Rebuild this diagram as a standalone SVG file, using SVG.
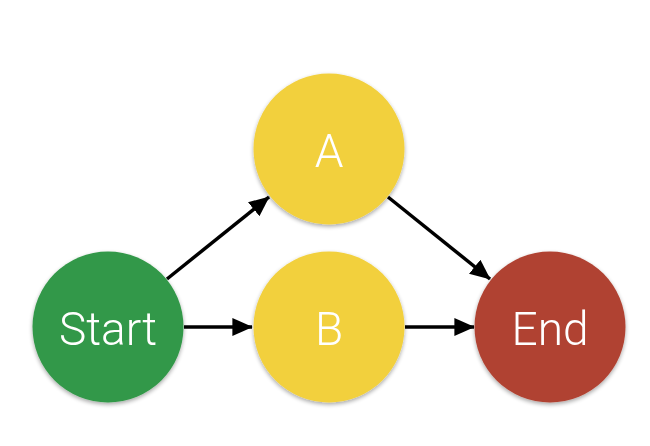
<svg xmlns="http://www.w3.org/2000/svg" width="650" height="446" viewBox="0 0 650 446">
<defs>
<style>
.lbl{font-family:Roboto,"Liberation Sans",sans-serif;font-weight:300;font-size:46px;fill:#ffffff;text-anchor:middle}
.edge{stroke:#000;stroke-width:3.5;fill:none;marker-end:url(#ah)}
</style>
<marker id="ah" markerWidth="6" markerHeight="6" refX="5.6" refY="3" orient="auto" markerUnits="strokeWidth">
<path d="M0,0.4 L5.8,3 L0,5.6 Z" fill="#000"/>
</marker>
<filter id="sh" x="-20%" y="-20%" width="140%" height="150%">
<feGaussianBlur in="SourceAlpha" stdDeviation="2"/>
<feOffset dy="2" result="b"/>
<feComponentTransfer><feFuncA type="linear" slope="0.35"/></feComponentTransfer>
<feMerge><feMergeNode/><feMergeNode in="SourceGraphic"/></feMerge>
</filter>
</defs>
<rect width="650" height="446" fill="#fff"/>
<g id="connectors">
<line class="edge" x1="167" y1="279" x2="269" y2="197"/>
<line class="edge" x1="184" y1="327" x2="252" y2="327"/>
<line class="edge" x1="388" y1="197" x2="490" y2="279"/>
<line class="edge" x1="405" y1="327" x2="474" y2="327"/>
</g>
<g id="node-start" filter="url(#sh)">
<circle cx="108" cy="327" r="75.5" fill="#339848"/>
<text class="lbl" x="108" y="345">Start</text>
</g>
<g id="node-a" filter="url(#sh)">
<circle cx="329" cy="149" r="75.5" fill="#f2d03e"/>
<text class="lbl" x="329" y="167">A</text>
</g>
<g id="node-b" filter="url(#sh)">
<circle cx="329" cy="327" r="75.5" fill="#f2d03e"/>
<text class="lbl" x="329" y="345">B</text>
</g>
<g id="node-end" filter="url(#sh)">
<circle cx="550" cy="327" r="75.5" fill="#b04333"/>
<text class="lbl" x="550" y="345">End</text>
</g>
</svg>
